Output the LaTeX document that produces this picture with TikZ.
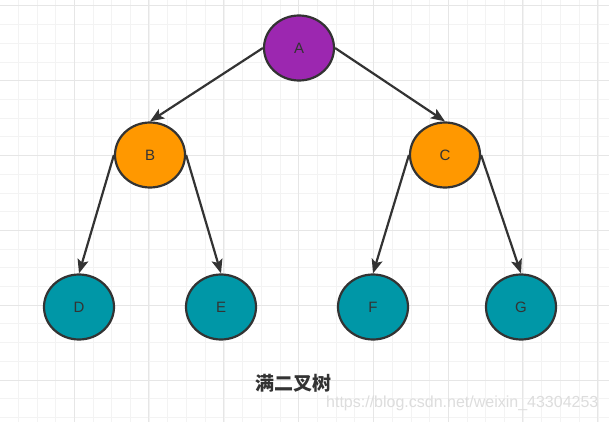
\documentclass[tikz,border=0pt]{standalone}
\usepackage{fontspec}
\setmainfont{Liberation Sans}
\newfontfamily\cjkfont{Noto Sans CJK SC}
\usetikzlibrary{arrows.meta, shapes.geometric}
\usepackage{xcolor}
\definecolor{inkdark}{HTML}{333333}
\definecolor{rootpurple}{HTML}{9C27B0}
\definecolor{midorange}{HTML}{FF9800}
\definecolor{leafteal}{HTML}{0097A7}
\definecolor{gridminor}{HTML}{F3F3F3}
\definecolor{gridmajor}{HTML}{E6E6E6}
\definecolor{markgray}{HTML}{DDDDDD}

\begin{document}
\begin{tikzpicture}[
    x=1pt, y=-1pt,
    tnode/.style={ellipse, draw=inkdark, line width=2.2pt,
                  minimum width=70pt, minimum height=65pt, inner sep=0pt,
                  font=\fontsize{15}{17}\selectfont, text=inkdark},
    rootbox/.style={tnode, fill=rootpurple},
    midbox/.style={tnode, fill=midorange},
    leafbox/.style={tnode, fill=leafteal},
    arr/.style={-{Stealth[length=14pt, width=11pt, inset=3pt]}, line width=2.2pt, draw=inkdark},
  ]
    \useasboundingbox (0,0) rectangle (609,422);
    \fill[white] (0,0) rectangle (609,422);

    % grid paper
    \foreach \k in {0,...,31}
      \draw[gridminor, line width=1pt] ({18.3+18.7*\k},0) -- ++(0,422);
    \foreach \k in {0,...,22}
      \draw[gridminor, line width=1pt] (0,{6+18.7*\k}) -- ++(609,0);
    \foreach \k in {1,...,8}
      \draw[gridmajor, line width=1pt] ({-0.8+74.8*\k},0) -- ++(0,422);
    \foreach \k in {0,...,5}
      \draw[gridmajor, line width=1pt] (0,{6+74.8*\k}) -- ++(609,0);

    \node[rootbox] (a) at (299,48)  {A};
    \node[midbox]  (b) at (150,155) {B};
    \node[midbox]  (c) at (445,155) {C};
    \node[leafbox] (d) at (79,307)  {D};
    \node[leafbox] (e) at (221,307) {E};
    \node[leafbox] (f) at (373,307) {F};
    \node[leafbox] (g) at (521,307) {G};

    \draw[arr] (a.west) -- (b.north);
    \draw[arr] (a.east) -- (c.north);
    \draw[arr] (b.west) -- (d.north);
    \draw[arr] (b.east) -- (e.north);
    \draw[arr] (c.west) -- (f.north);
    \draw[arr] (c.east) -- (g.north);

    \node[font=\cjkfont\bfseries\fontsize{19}{21}\selectfont, text=inkdark] (title) at (293,383) {满二叉树};
    \node[font=\fontsize{16}{18}\selectfont, text=markgray, anchor=west, inner sep=0pt] (mark) at (326,403) {https://blog.csdn.net/weixin\_43304253};
  \end{tikzpicture}
\end{document}
